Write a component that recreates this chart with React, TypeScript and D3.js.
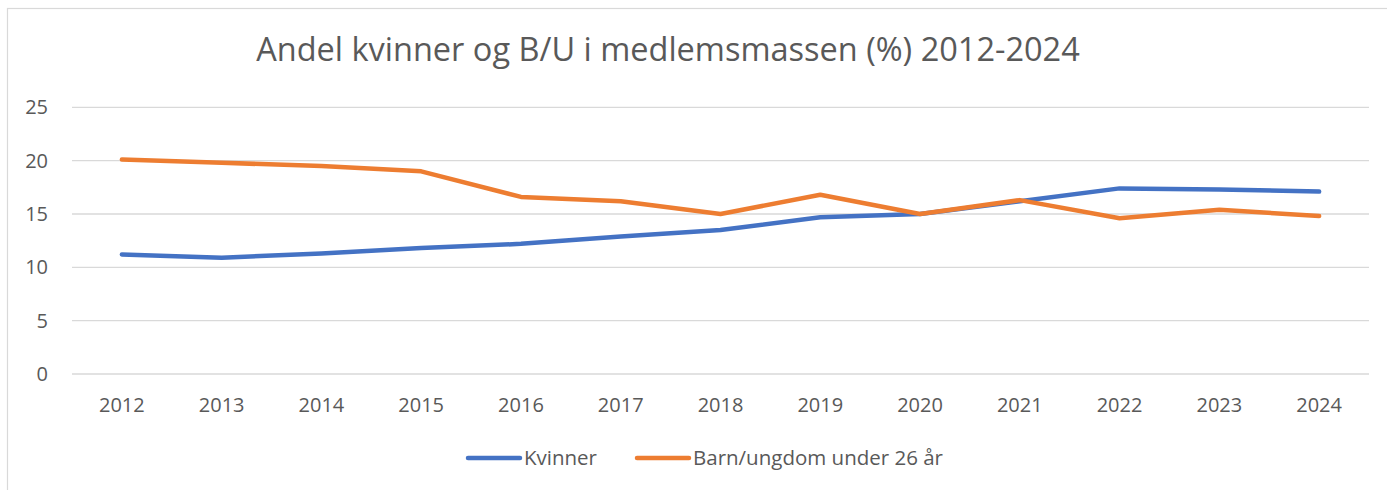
import React from "react";
import * as d3 from "d3";

const years = ["2012","2013","2014","2015","2016","2017","2018","2019","2020","2021","2022","2023","2024"];
const kvinner = [11.2,10.9,11.3,11.8,12.2,12.9,13.5,14.7,15.0,16.2,17.4,17.3,17.1];
const barnUngdom = [20.1,19.8,19.5,19.0,16.6,16.2,15.0,16.8,15.0,16.3,14.6,15.4,14.8];
const yTicks = [0,5,10,15,20,25];
const title = "Andel kvinner og B/U i medlemsmassen (%) 2012-2024";
const seriesNames = ["Kvinner","Barn/ungdom under 26 år"];
const colors = ["#4472C4","#ED7D31"];

const W = 1387, H = 490;
const FONT = "'Open Sans', sans-serif";

export default function App() {
  const x = d3.scaleBand().domain(years).range([72, 1369]);
  const y = d3.scaleLinear().domain([0,25]).range([374, 107.3]);
  const line = d3.line<number>()
    .x((_, i) => (x(years[i]) as number) + x.bandwidth()/2)
    .y(d => y(d));
  const series = [kvinner, barnUngdom];
  return (
    <svg width={W} height={H} style={{position:"absolute",left:0,top:0,background:"#fff"}} fontFamily={FONT}>
      <rect x={7.5} y={8.5} width={1500} height={600} fill="#fff" stroke="#d9d9d9" strokeWidth={1.2}/>
      <text x={668} y={50} dy="0.35em" textAnchor="middle" fontSize={32.5} fill="#595959">{title}</text>
      {yTicks.map(t => (
        <g key={t}>
          <line x1={72} x2={1369} y1={y(t)} y2={y(t)} stroke="#d9d9d9" strokeWidth={1.3}/>
          <text x={48} y={y(t)} dy="0.35em" textAnchor="end" fontSize={20} fill="#595959">{t}</text>
        </g>
      ))}
      {years.map(yr => (
        <text key={yr} x={(x(yr) as number) + x.bandwidth()/2} y={404.5} dy="0.35em" textAnchor="middle" fontSize={20} fill="#595959">{yr}</text>
      ))}
      {series.map((s, i) => (
        <path key={i} d={line(s) as string} fill="none" stroke={colors[i]} strokeWidth={4.5} strokeLinecap="round" strokeLinejoin="round"/>
      ))}
      <g>
        <line x1={468} x2={520} y1={458} y2={458} stroke={colors[0]} strokeWidth={4.5} strokeLinecap="round"/>
        <text x={524} y={458} dy="0.35em" fontSize={20.5} fill="#595959">{seriesNames[0]}</text>
        <line x1={637} x2={689} y1={458} y2={458} stroke={colors[1]} strokeWidth={4.5} strokeLinecap="round"/>
        <text x={693} y={458} dy="0.35em" fontSize={20.5} fill="#595959">{seriesNames[1]}</text>
      </g>
    </svg>
  );
}
